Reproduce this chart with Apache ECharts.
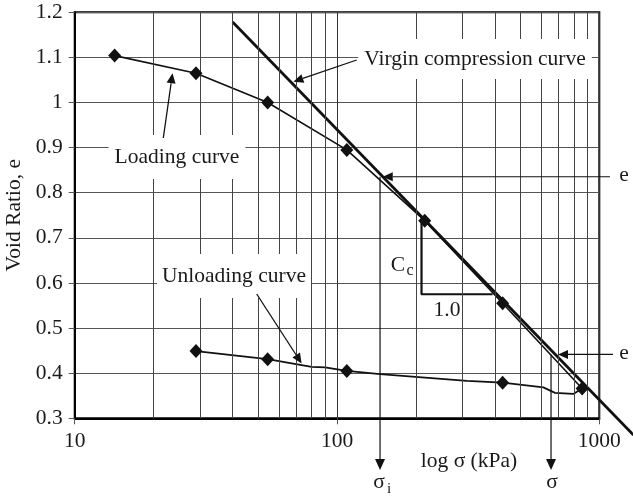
<!DOCTYPE html>
<html>
<head>
<meta charset="utf-8">
<script src="https://cdn.jsdelivr.net/npm/echarts@6/dist/echarts.min.js"></script>
<style>
  html, body { margin: 0; padding: 0; background: #fff; }
  #chart { width: 633px; height: 498px; }
</style>
</head>
<body>
<div id="chart"></div>
<script>
// Oedometer test: void ratio against effective stress (kPa), log scale
const loadingStress = [14.2, 29, 54.4, 109, 216, 428, 860];
const loadingVoid   = [1.104, 1.065, 1.0, 0.895, 0.738, 0.555, 0.366];

const unloadingStress = [29, 54.4, 109, 428];
const unloadingVoid   = [0.449, 0.431, 0.405, 0.379];

// unloading curve as drawn, with its bends between the test points
const unloadingPathStress = [29, 54.4, 80, 90, 109, 146, 313, 428, 612, 678, 796, 860];
const unloadingPathVoid   = [0.449, 0.431, 0.414, 0.413, 0.405, 0.398, 0.383, 0.379, 0.3685, 0.3565, 0.354, 0.366];

// straight virgin compression line (runs past the frame on the right)
const virginStress = [40, 1350];
const virginVoid   = [1.1785, 0.2627];

// slope triangle for Cc
const slopeStress = [210, 210, 392];
const slopeVoid   = [0.738, 0.575, 0.575];

// log-cycle grid lines between decades
const minorStress = [20, 30, 40, 50, 60, 70, 80, 90, 200, 300, 400, 500, 600, 700, 800, 900];

const xTicks = [10, 100, 1000];
const yMin = 0.3, yMax = 1.2, yStep = 0.1;

const eInitial = 0.8355;   // e at sigma_i
const eFinal   = 0.4417;   // e at sigma
const sigmaI   = 145.9;
const sigmaF   = 654.6;

const FONT = 'Liberation Serif';
const FS = 21.5;
const INK = '#1a1a1a';

const zip = (xs, ys) => xs.map((x, i) => [x, ys[i]]);
const lg = Math.log10;

const chart = echarts.init(document.getElementById('chart'), null, { renderer: 'canvas' });

chart.setOption({
  animation: false,
  backgroundColor: '#fff',
  grid: {
    left: 74.7, right: 33.7, top: 12.3, bottom: 79.7,
    outerBoundsMode: 'none', containLabel: false,
    show: true, borderColor: '#000', borderWidth: 2, backgroundColor: 'transparent'
  },
  xAxis: [
    {
      type: 'log', logBase: 10, min: xTicks[0], max: xTicks[xTicks.length - 1],
      axisLine: { show: true, onZero: false, lineStyle: { color: '#000', width: 2 } },
      axisTick: { show: true, inside: false, length: 6, lineStyle: { color: '#555', width: 1 } },
      axisLabel: { fontFamily: FONT, fontSize: FS, color: INK, margin: 12, formatter: v => String(Math.round(v)) },
      splitLine: { show: true, lineStyle: { color: '#333', width: 1 } },
      minorTick: { show: false }
    },
    {
      // the same decades as a linear log10 scale, used to place the virgin line
      type: 'value', min: lg(xTicks[0]), max: lg(xTicks[xTicks.length - 1]), show: false,
      splitLine: { show: false }
    }
  ],
  yAxis: {
    type: 'value', min: yMin, max: yMax, interval: yStep,
    name: 'Void Ratio, e', nameLocation: 'middle', nameGap: 49, nameRotate: 90,
    nameTextStyle: { fontFamily: FONT, fontSize: FS, color: INK },
    axisLine: { show: true, onZero: false, lineStyle: { color: '#000', width: 2 } },
    axisTick: { show: true, inside: false, length: 6, lineStyle: { color: '#555', width: 1 } },
    axisLabel: {
      fontFamily: FONT, fontSize: FS, color: INK, margin: 12,
      formatter: v => String(parseFloat(v.toFixed(1)))
    },
    splitLine: { show: true, lineStyle: { color: '#555', width: 1 } }
  },
  series: [
    {
      name: 'grid', type: 'line', data: [], silent: true,
      markLine: {
        silent: true, symbol: 'none', label: { show: false },
        lineStyle: { color: '#444', width: 1, type: 'solid' },
        data: minorStress.map(s => ({ xAxis: s }))
      },
      z: 1
    },
    {
      name: 'Cc', type: 'line', data: zip(slopeStress, slopeVoid),
      showSymbol: false, lineStyle: { color: '#111', width: 2.2 }, z: 3
    },
    {
      name: 'Loading curve', type: 'line', data: zip(loadingStress, loadingVoid),
      showSymbol: false, lineStyle: { color: '#111', width: 1.6 }, z: 3
    },
    {
      name: 'Unloading curve', type: 'line', data: zip(unloadingPathStress, unloadingPathVoid),
      showSymbol: false, lineStyle: { color: '#111', width: 1.8 }, z: 3
    },
    {
      name: 'Loading points', type: 'scatter', data: zip(loadingStress, loadingVoid),
      symbol: 'diamond', symbolSize: [13, 14], itemStyle: { color: '#111', opacity: 1 }, z: 5
    },
    {
      name: 'Unloading points', type: 'scatter', data: zip(unloadingStress, unloadingVoid),
      symbol: 'diamond', symbolSize: [13, 14], itemStyle: { color: '#111', opacity: 1 }, z: 5
    }
  ]
});

// ---- annotations: virgin line, leaders, arrows and labels ----
const px = (x, y) => chart.convertToPixel({ gridIndex: 0 }, [x, y]);
const pxLin = (x, y) => chart.convertToPixel({ xAxisIndex: 1, yAxisIndex: 0 }, [lg(x), y]);

function arrow(from, to, width, headLen, headHalf) {
  const dx = to[0] - from[0], dy = to[1] - from[1];
  const L = Math.hypot(dx, dy);
  const ux = dx / L, uy = dy / L;
  const bx = to[0] - ux * headLen, by = to[1] - uy * headLen;
  return [
    { type: 'line', z: 20, shape: { x1: from[0], y1: from[1], x2: bx, y2: by },
      style: { stroke: '#111', lineWidth: width } },
    { type: 'polygon', z: 20,
      shape: { points: [to, [bx - uy * headHalf, by + ux * headHalf], [bx + uy * headHalf, by - ux * headHalf]] },
      style: { fill: '#111' } }
  ];
}

function label(text, x, y, opts) {
  return {
    type: 'text', z: 15, x: x, y: y,
    style: Object.assign({
      text: text, fontFamily: FONT, fontSize: FS, fill: INK,
      align: 'center', verticalAlign: 'middle'
    }, opts || {})
  };
}

const boxStyle = (padV, padH) => ({ backgroundColor: '#fff', padding: [padV, padH, padV, padH] });

const yBelow = 470;   // tips of the stress arrows below the axis
const graphics = [];

// virgin compression line, drawn unclipped so it leaves the frame at the lower right
const v0 = pxLin(virginStress[0], virginVoid[0]);
const v1 = pxLin(virginStress[1], virginVoid[1]);
graphics.push({
  type: 'line', z: 4,
  shape: { x1: v0[0], y1: v0[1], x2: v1[0], y2: v1[1] },
  style: { stroke: '#111', lineWidth: 2.8 }
});

// label boxes (white background over the grid)
graphics.push(label('Virgin compression curve', 475, 59, boxStyle(9, 6)));
graphics.push(label('Loading curve', 177, 157, boxStyle(11, 6)));
graphics.push(label('Unloading curve', 234, 276, boxStyle(11, 5)));

// leaders
graphics.push(...arrow([356.7, 60], px(68.2, 1.0461), 1.3, 10, 4.5));
graphics.push(...arrow([163.3, 138], px(23.6, 1.0647), 1.3, 10, 4.5));
graphics.push(...arrow([256.7, 294], px(73.3, 0.4217), 1.3, 10, 4.5));

// e and sigma construction lines
const eiTip = px(149.4, eInitial);
graphics.push(...arrow([610, eiTip[1]], eiTip, 1.2, 10, 4.5));
const efTip = px(696, eFinal);
graphics.push(...arrow([613, efTip[1]], efTip, 1.2, 10, 4.5));

const siTop = px(sigmaI, eInitial);
graphics.push(...arrow(siTop, [siTop[0], yBelow], 1.2, 11, 5));
const sfTop = px(sigmaF, eFinal);
graphics.push(...arrow(sfTop, [sfTop[0], yBelow], 1.2, 11, 5));

graphics.push(label('e', 624, eiTip[1] - 1));
graphics.push(label('e', 624, efTip[1] - 1));
graphics.push(label('σ', siTop[0] - 1, 482));
graphics.push(label('i', siTop[0] + 9, 489, { fontSize: 15 }));
graphics.push(label('σ', sfTop[0] + 1, 482));

// slope labels
graphics.push(label('C', 398, 265));
graphics.push(label('c', 410, 271, { fontSize: 16 }));
graphics.push(label('1.0', 447, 310));

// x-axis title
graphics.push(label('log σ (kPa)', 469, 461));

chart.setOption({ graphic: { elements: graphics } });
</script>
</body>
</html>
